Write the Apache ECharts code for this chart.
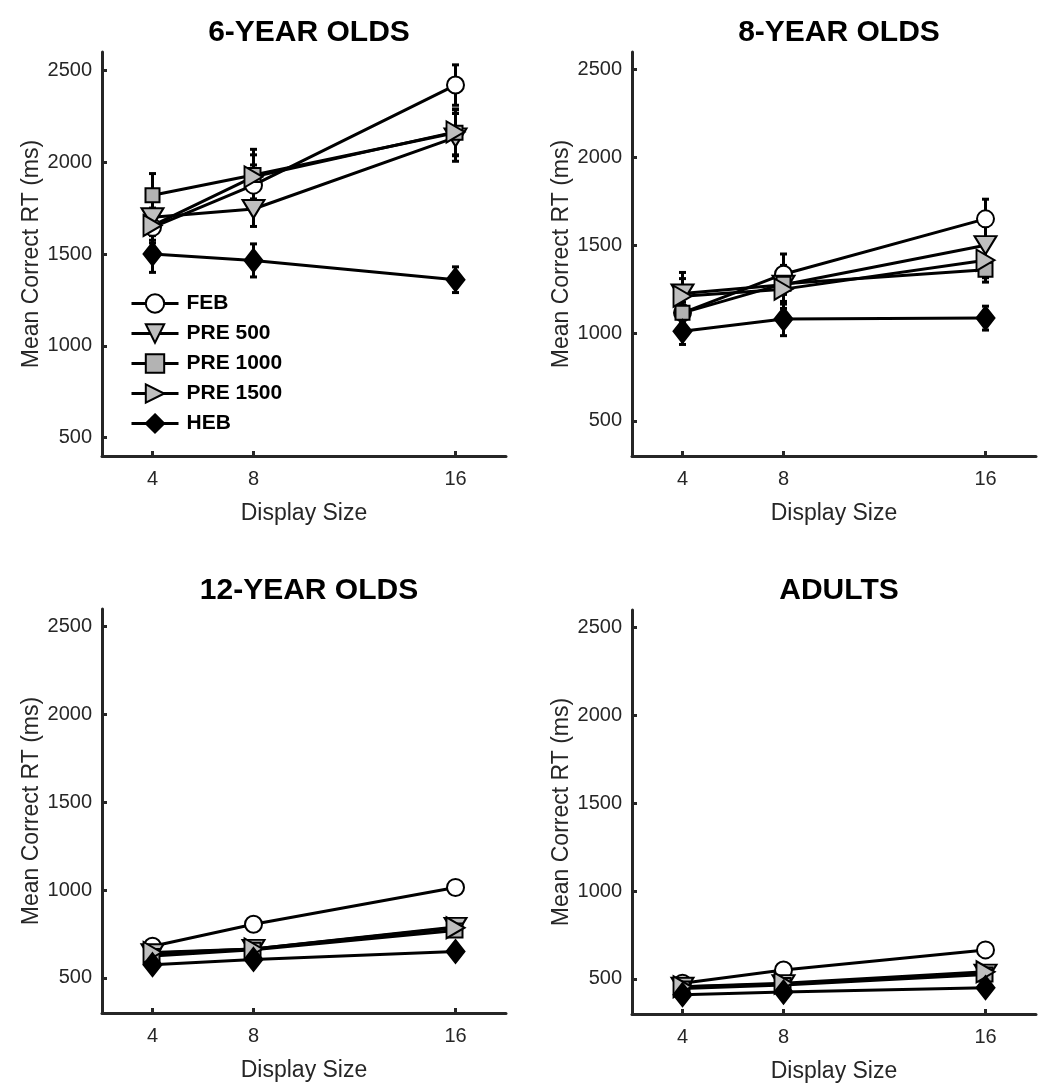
<!DOCTYPE html>
<html><head><meta charset="utf-8">
<script src="https://cdn.jsdelivr.net/npm/echarts@6/dist/echarts.min.js"></script>
<style>html,body{margin:0;padding:0;background:#fff}#c{width:1038px;height:1084px}</style>
</head><body><div id="c"></div>
<script>
// ---------- DATA ----------
const displaySizes = [4, 8, 16];
const seriesNames = ['FEB', 'PRE 500', 'PRE 1000', 'PRE 1500', 'HEB'];
const panelTitles = ['6-YEAR OLDS', '8-YEAR OLDS', '12-YEAR OLDS', 'ADULTS'];
const xTickValues = [4, 8, 16];
const yTickValues = [500, 1000, 1500, 2000, 2500];
const yMins = [400, 300, 300, 300];
const yMax = 2600;

// 6-year olds: mean RT and error
const rt6_FEB = [1645, 1875, 2420];   const err6_FEB = [70, 110, 110];
const rt6_PRE500 = [1700, 1745, 2135]; const err6_PRE500 = [90, 95, 130];
const rt6_PRE1000 = [1820, 1930, 2160]; const err6_PRE1000 = [118, 140, 125];
const rt6_PRE1500 = [1655, 1920, 2165]; const err6_PRE1500 = [95, 120, 125];
const rt6_HEB = [1500, 1465, 1360];   const err6_HEB = [100, 90, 70];

// 8-year olds
const rt8_FEB = [1115, 1335, 1650];   const err8_FEB = [60, 115, 112];
const rt8_PRE500 = [1225, 1275, 1500]; const err8_PRE500 = [120, 110, 110];
const rt8_PRE1000 = [1115, 1280, 1360]; const err8_PRE1000 = [90, 100, 70];
const rt8_PRE1500 = [1210, 1250, 1415]; const err8_PRE1500 = [100, 110, 100];
const rt8_HEB = [1010, 1080, 1085];   const err8_HEB = [75, 95, 68];

// 12-year olds
const rt12_FEB = [680, 805, 1015];    const err12_FEB = [20, 20, 30];
const rt12_PRE500 = [640, 665, 790];  const err12_PRE500 = [20, 20, 25];
const rt12_PRE1000 = [625, 660, 770]; const err12_PRE1000 = [20, 20, 25];
const rt12_PRE1500 = [645, 665, 785]; const err12_PRE1500 = [20, 20, 25];
const rt12_HEB = [575, 605, 650];     const err12_HEB = [20, 20, 25];

// Adults
const rtA_FEB = [475, 550, 665];      const errA_FEB = [15, 15, 20];
const rtA_PRE500 = [455, 470, 530];   const errA_PRE500 = [15, 15, 20];
const rtA_PRE1000 = [445, 465, 525];  const errA_PRE1000 = [15, 15, 20];
const rtA_PRE1500 = [455, 475, 540];  const errA_PRE1500 = [15, 15, 20];
const rtA_HEB = [410, 425, 450];      const errA_HEB = [15, 15, 20];

const panelMeans = [
  [rt6_FEB, rt6_PRE500, rt6_PRE1000, rt6_PRE1500, rt6_HEB],
  [rt8_FEB, rt8_PRE500, rt8_PRE1000, rt8_PRE1500, rt8_HEB],
  [rt12_FEB, rt12_PRE500, rt12_PRE1000, rt12_PRE1500, rt12_HEB],
  [rtA_FEB, rtA_PRE500, rtA_PRE1000, rtA_PRE1500, rtA_HEB]
];
const panelErrs = [
  [err6_FEB, err6_PRE500, err6_PRE1000, err6_PRE1500, err6_HEB],
  [err8_FEB, err8_PRE500, err8_PRE1000, err8_PRE1500, err8_HEB],
  [err12_FEB, err12_PRE500, err12_PRE1000, err12_PRE1500, err12_HEB],
  [errA_FEB, errA_PRE500, errA_PRE1000, errA_PRE1500, errA_HEB]
];

// ---------- STYLE ----------
const AX = '#262626';
const FONT = '"Liberation Sans", Arial, Helvetica, sans-serif';
const markerStyles = [
  {symbol: 'circle', size: 17, rotate: 0, fill: '#ffffff'},
  {symbol: 'triangle', size: [22, 18], rotate: 180, fill: '#bfbfbf'},
  {symbol: 'rect', size: 14, rotate: 0, fill: '#b3b3b3'},
  {symbol: 'triangle', size: [21, 18], rotate: -90, fill: '#bfbfbf'},
  {symbol: 'diamond', size: [18, 23], rotate: 0, fill: '#000000'}
];
const grids = [
  {left: 102, top: 52, width: 404, height: 404},
  {left: 632, top: 52, width: 404, height: 404},
  {left: 102, top: 609, width: 404, height: 404},
  {left: 632, top: 610, width: 404, height: 404}
];
const titlePos = [
  {x: 304, y: 13}, {x: 834, y: 13}, {x: 304, y: 571}, {x: 834, y: 571}
];

function renderErr(params, api) {
  const x = api.value(0), y = api.value(1), e = api.value(2);
  const top = api.coord([x, y + e]);
  const bot = api.coord([x, y - e]);
  const cw = 3.5;
  const st = {stroke: '#000', lineWidth: 3};
  return {
    type: 'group',
    children: [
      {type: 'line', shape: {x1: top[0], y1: top[1], x2: bot[0], y2: bot[1]}, style: st},
      {type: 'line', shape: {x1: top[0] - cw, y1: top[1], x2: top[0] + cw, y2: top[1]}, style: st},
      {type: 'line', shape: {x1: bot[0] - cw, y1: bot[1], x2: bot[0] + cw, y2: bot[1]}, style: st}
    ]
  };
}

const xAxes = [], yAxes = [], series = [], titles = [];
for (let p = 0; p < 4; p++) {
  titles.push({
    text: panelTitles[p], left: titlePos[p].x, top: titlePos[p].y, textAlign: 'center',
    textStyle: {fontFamily: FONT, fontSize: 30, fontWeight: 'bold', color: '#000'}
  });
  xAxes.push({
    type: 'value', gridIndex: p, min: 2, max: 18,
    name: 'Display Size', nameLocation: 'middle', nameGap: 46,
    nameTextStyle: {fontFamily: FONT, fontSize: 23, color: AX},
    axisLine: {show: true, lineStyle: {color: AX, width: 3}},
    axisTick: {show: true, inside: true, length: 5, customValues: xTickValues, lineStyle: {color: AX, width: 3}},
    axisLabel: {customValues: xTickValues, fontFamily: FONT, fontSize: 20, color: AX, margin: 13,
      formatter: v => String(v)},
    splitLine: {show: false}
  });
  yAxes.push({
    type: 'value', gridIndex: p, min: yMins[p], max: yMax,
    name: 'Mean Correct RT (ms)', nameLocation: 'middle', nameGap: 59, nameRotate: 90,
    nameTextStyle: {fontFamily: FONT, fontSize: 23, color: AX},
    axisLine: {show: true, lineStyle: {color: AX, width: 3}},
    axisTick: {show: true, inside: true, length: 5, customValues: yTickValues, lineStyle: {color: AX, width: 3}},
    axisLabel: {customValues: yTickValues, fontFamily: FONT, fontSize: 20, color: AX, margin: 10,
      formatter: v => String(v)},
    splitLine: {show: false}
  });
  for (let s = 0; s < 5; s++) {
    const means = panelMeans[p][s], errs = panelErrs[p][s];
    const pts = displaySizes.map((x, i) => [x, means[i]]);
    const errPts = displaySizes.map((x, i) => [x, means[i], errs[i]]);
    series.push({
      type: 'custom', name: seriesNames[s] + ' err', xAxisIndex: p, yAxisIndex: p,
      renderItem: renderErr, data: errPts, silent: true, z: 2
    });
    const m = markerStyles[s];
    series.push({
      type: 'line', name: seriesNames[s], xAxisIndex: p, yAxisIndex: p,
      data: pts, symbol: m.symbol, symbolSize: m.size, symbolRotate: m.rotate,
      showAllSymbol: true, animation: false, z: 2,
      lineStyle: {color: '#000', width: 3},
      itemStyle: {color: m.fill, borderColor: '#000', borderWidth: 2, opacity: 1}
    });
  }
}

const chart = echarts.init(document.getElementById('c'), null, {renderer: 'canvas'});
chart.setOption({
  animation: false,
  backgroundColor: '#fff',
  title: titles,
  grid: grids,
  xAxis: xAxes,
  yAxis: yAxes,
  legend: {
    data: seriesNames, orient: 'vertical', left: 125, top: 288,
    itemWidth: 47, itemHeight: 23, itemGap: 9,
    lineStyle: {width: 3, color: '#000'},
    itemStyle: {borderWidth: 2, borderColor: '#000'},
    textStyle: {fontFamily: FONT, fontSize: 21, fontWeight: 'bold', color: '#000', padding: [0, 0, 0, 3]},
    selectedMode: false
  },
  series: series
});
</script></body></html>
